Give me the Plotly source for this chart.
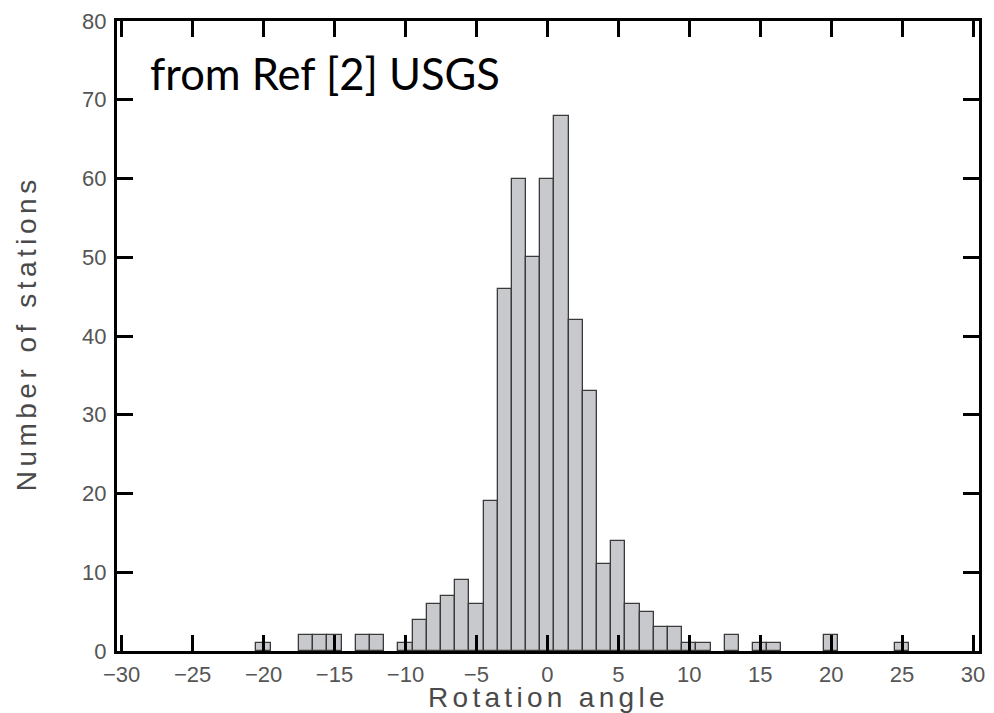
import plotly.graph_objects as go

# histogram of rotation angles (bin centres, 1 degree wide)
angles = [-20, -17, -16, -15, -13, -12, -10, -9, -8, -7, -6, -5, -4, -3, -2, -1,
          0, 1, 2, 3, 4, 5, 6, 7, 8, 9, 10, 11, 13, 15, 16, 20, 25]
counts = [1, 2, 2, 2, 2, 2, 1, 4, 6, 7, 9, 6, 19, 46, 60, 50,
          60, 68, 42, 33, 11, 14, 6, 5, 3, 3, 1, 1, 2, 1, 1, 2, 1]

x_ticks = [-30, -25, -20, -15, -10, -5, 0, 5, 10, 15, 20, 25, 30]
y_ticks = [0, 10, 20, 30, 40, 50, 60, 70, 80]

GRAY_TXT = "#4a4a4a"
TICK_FONT = dict(family="Liberation Sans", size=22, color="#555555")

fig = go.Figure(go.Bar(
    x=angles,
    y=counts,
    width=1,
    marker=dict(color="#c8c9cd", line=dict(color="#3a3a3a", width=1.3)),
    showlegend=False,
))

axis_common = dict(
    showgrid=False,
    zeroline=False,
    showline=True,
    linecolor="black",
    linewidth=3,
    mirror="ticks",
    ticks="inside",
    ticklen=16,
    tickwidth=3,
    tickcolor="black",
    tickfont=TICK_FONT,
    ticklabeloverflow="allow",
)

fig.update_xaxes(range=[-30.33, 30.42], tickvals=x_ticks, ticklabelstandoff=2, **axis_common)
fig.update_yaxes(range=[0, 80], tickvals=y_ticks, ticklabelstandoff=3, **axis_common)

fig.add_annotation(
    text="from Ref [2] USGS", xref="paper", yref="paper",
    x=0.036, y=0.917, xanchor="left", yanchor="middle", showarrow=False,
    font=dict(family="Lato", size=43.5, color="black"),
)
fig.add_annotation(
    text='<span style="letter-spacing:4.3px">Rotation angle</span>',
    xref="paper", yref="paper", x=0.5, y=-0.074, xanchor="center", yanchor="middle",
    showarrow=False, font=dict(family="Liberation Sans", size=28, color=GRAY_TXT),
)
fig.add_annotation(
    text='<span style="letter-spacing:4.5px">Number of stations</span>',
    xref="paper", yref="paper", x=-0.105, y=0.505, xanchor="center", yanchor="middle",
    textangle=-90, showarrow=False,
    font=dict(family="Liberation Sans", size=28, color=GRAY_TXT),
)

fig.update_layout(
    width=994, height=713,
    margin=dict(l=117, r=9, t=19, b=62),
    paper_bgcolor="white",
    plot_bgcolor="white",
    bargap=0,
)

# drop the browser's default body margin so the figure fills the window exactly
fig.write_html(
    "out.html",
    config={"displayModeBar": False},
    post_script="document.body.style.margin = '0';",
)
